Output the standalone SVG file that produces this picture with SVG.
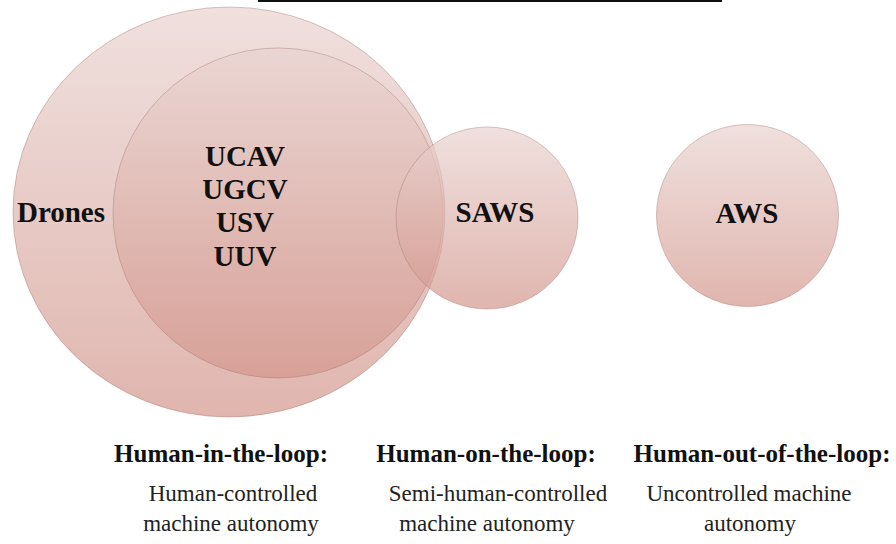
<svg xmlns="http://www.w3.org/2000/svg" width="896" height="544" viewBox="0 0 896 544">
<style>
.c{stroke:#9a6e66;stroke-opacity:0.38;stroke-width:1;fill:url(#g);fill-opacity:0.7}
text{font-family:'Liberation Serif','Tinos','Times New Roman','DejaVu Serif',serif}
.lbl{font-weight:bold;font-size:29px;fill:#111;text-anchor:middle}
.h{font-weight:bold;font-size:25px;fill:#111;text-anchor:middle}
.d{font-size:23px;fill:#222;text-anchor:middle}
</style>
<defs>
<linearGradient id="g" x1="0" y1="0" x2="0" y2="1">
<stop offset="0" stop-color="#e9d3d0"/>
<stop offset="1" stop-color="#d3968c"/>
</linearGradient>
</defs>
<rect width="896" height="544" fill="#fff"/>
<line x1="258" y1="1" x2="722" y2="1" stroke="#111" stroke-width="2"/>
<g id="drones">
<ellipse class="c" cx="229" cy="212" rx="216" ry="205"/>
<text class="lbl" x="61" y="222">Drones</text>
</g>
<g id="unmanned">
<circle class="c" cx="278" cy="213" r="165"/>
<text class="lbl" x="245" y="166">UCAV</text>
<text class="lbl" x="245" y="199">UGCV</text>
<text class="lbl" x="245" y="232">USV</text>
<text class="lbl" x="245" y="266">UUV</text>
</g>
<g id="saws">
<circle class="c" cx="487" cy="218" r="91"/>
<text class="lbl" x="495" y="222">SAWS</text>
</g>
<g id="aws">
<circle class="c" cx="747.5" cy="215.5" r="91"/>
<text class="lbl" x="747" y="223">AWS</text>
</g>
<g id="col-in">
<text class="h" x="221" y="462">Human-in-the-loop:</text>
<text class="d" x="233" y="501">Human-controlled</text>
<text class="d" x="231" y="531">machine autonomy</text>
</g>
<g id="col-on">
<text class="h" x="486" y="462">Human-on-the-loop:</text>
<text class="d" x="498" y="501">Semi-human-controlled</text>
<text class="d" x="487" y="531">machine autonomy</text>
</g>
<g id="col-out">
<text class="h" x="762" y="462">Human-out-of-the-loop:</text>
<text class="d" x="749" y="501">Uncontrolled machine</text>
<text class="d" x="750" y="531">autonomy</text>
</g>
</svg>
